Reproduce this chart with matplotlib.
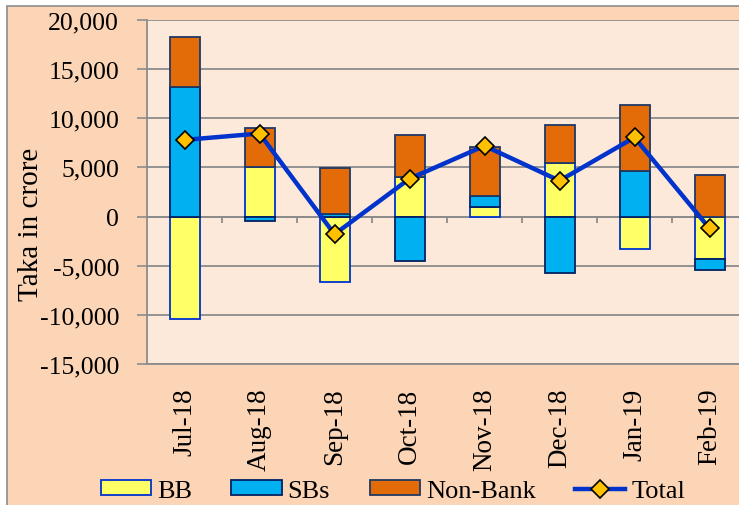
import matplotlib.pyplot as plt
import numpy as np
from matplotlib.patches import Rectangle

plt.rcParams["font.family"] = ["Liberation Serif", "DejaVu Serif"]

# data (Taka in crore)
months = ["Jul-18", "Aug-18", "Sep-18", "Oct-18", "Nov-18", "Dec-18", "Jan-19", "Feb-19"]
bb = [-10400, 5000, -6700, 4000, 1000, 5500, -3300, -4300]
sbs = [13150, -500, 300, -4500, 1100, -5700, 4600, -1100]
non_bank = [5100, 4000, 4600, 4300, 5000, 3800, 6800, 4200]
total = [7800, 8450, -1800, 3850, 7200, 3650, 8050, -1200]

y_ticks = [-15000, -10000, -5000, 0, 5000, 10000, 15000, 20000]

OUTER_BG = "#fbd5b5"
INNER_BG = "#fde9d9"

fig = plt.figure(figsize=(7.39, 5.06), dpi=100)
fig.patch.set_facecolor("white")

# outer chart frame
frame = Rectangle((7 / 739, -0.1), 1.2, 1.1 - 7 / 506,
                  transform=fig.transFigure, facecolor=OUTER_BG,
                  edgecolor="#8c8c8c", linewidth=1.2, zorder=-10)
fig.add_artist(frame)

ax = fig.add_axes([147 / 739, 1 - 365 / 506, 600 / 739, 344 / 506])
ax.set_zorder(1)
ax.set_facecolor(INNER_BG)

x = np.arange(len(months))
width = 0.4

series = [
    ("BB", bb, "#ffff66", "#0033cc"),
    ("SBs", sbs, "#00b0f0", "#002060"),
    ("Non-Bank", non_bank, "#e36c09", "#1f3864"),
]

pos_base = np.zeros(len(months))
neg_base = np.zeros(len(months))
for name, vals, fc, ec in series:
    vals = np.array(vals, dtype=float)
    bottoms = np.where(vals >= 0, pos_base, neg_base)
    ax.bar(x, vals, width, bottom=bottoms, color=fc, edgecolor=ec,
           linewidth=1.3, label=name, zorder=3)
    pos_base = pos_base + np.where(vals >= 0, vals, 0)
    neg_base = neg_base + np.where(vals < 0, vals, 0)

ax.plot(x, total, color="#0033cc", linewidth=3.2, marker="D", markersize=9,
        markerfacecolor="#ffc000", markeredgecolor="black", markeredgewidth=1.2,
        label="Total", zorder=5)

ax.set_xlim(-0.5, len(months) - 0.5)
ax.set_ylim(-15000, 20000)
ax.set_yticks(y_ticks)
ax.set_yticklabels([f"{v:,}" for v in y_ticks], fontsize=18.5)
ax.tick_params(axis="y", length=7, width=1.2, color="#8c8c8c", pad=13)

ax.set_xticks(x)
ax.set_xticklabels(months, rotation=90, fontsize=19.5, va="top")
ax.tick_params(axis="x", length=0, pad=17)

ax.grid(axis="y", color="#8c8c8c", linewidth=1.3, zorder=1)
ax.set_axisbelow(True)

# category axis crosses at zero, with ticks between categories
ax.axhline(0, color="#8c8c8c", linewidth=1.3, zorder=2)
ax.vlines(np.arange(0.5, len(months)), 0, -650, color="#8c8c8c", linewidth=1.3, zorder=2)

for side in ["top", "right"]:
    ax.spines[side].set_visible(False)
ax.spines["left"].set_color("#8c8c8c")
ax.spines["left"].set_linewidth(1.3)
ax.spines["bottom"].set_color("#8c8c8c")
ax.spines["bottom"].set_linewidth(1.3)

ax.set_ylabel("Taka in crore", fontsize=21)
ax.yaxis.set_label_coords(-0.172, 0.41)

handles, labels = ax.get_legend_handles_labels()
order = [1, 2, 3, 0]
fig.legend([handles[i] for i in order], [labels[i] for i in order],
           loc="center", bbox_to_anchor=(393 / 739, 1 - 492 / 506), ncol=4,
           frameon=False, fontsize=19, handlelength=1.9, handleheight=0.5,
           handletextpad=0.23, columnspacing=1.5, borderaxespad=0)

fig.savefig("out.png", dpi=100)
